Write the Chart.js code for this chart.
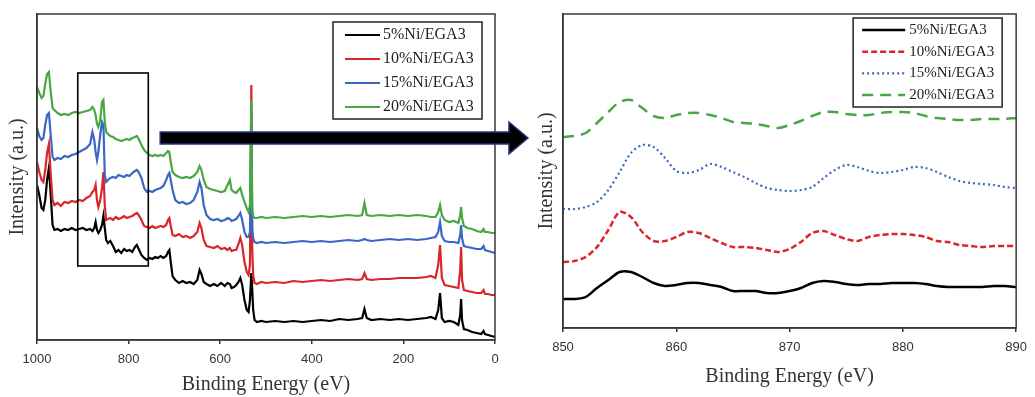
<!DOCTYPE html>
<html>
<head>
<meta charset="utf-8">
<script src="https://cdn.jsdelivr.net/npm/chart.js@4.4.0/dist/chart.umd.min.js"></script>
<style>
  body { margin: 0; background: #fff; }
  #wrap { position: relative; width: 1035px; height: 397px; }
  #survey { position: absolute; left: 0; top: 0; }
  #zoom { position: absolute; left: 530px; top: 0; }
</style>
</head>
<body>
<div id="wrap">
  <canvas id="survey" width="530" height="397"></canvas>
  <canvas id="zoom" width="505" height="397"></canvas>
</div>
<script>
// Series names
const seriesLabels = ['5%Ni/EGA3', '10%Ni/EGA3', '15%Ni/EGA3', '20%Ni/EGA3'];

// Survey spectrum (left), binding energy in eV
const surveyEnergy = [
  1000, 995, 990, 986, 982, 978, 974, 970, 966, 962,
  955, 948, 940, 932, 924, 916, 908, 900, 892, 884,
  879, 875, 872, 869, 866, 862, 858, 855, 852, 849,
  845, 840, 834, 828, 822, 816, 810, 804, 798, 792,
  786, 782, 778, 772, 766, 760, 754, 748, 742, 736,
  730, 724, 718, 714, 711, 708, 704, 698, 690, 682,
  674, 666, 658, 650, 645, 641, 636, 630, 622, 614,
  606, 598, 590, 584, 579, 575, 570, 565, 560, 556,
  552, 547, 542, 538, 535, 532, 530, 528, 525, 520,
  510, 500, 480, 460, 440, 420, 400, 380, 360, 340,
  320, 300, 290, 285, 280, 270, 250, 230, 210, 190,
  170, 150, 140, 130, 124, 120, 116, 110, 100, 90,
  80, 76, 74, 72, 68, 60, 50, 40, 30, 25,
  22, 15, 8, 0
];
const survey5 = [
  155, 145, 132, 130, 140, 160, 172, 145, 115, 110,
  111, 109, 111, 110, 112, 110, 111, 112, 110, 111,
  109, 112, 118, 110, 107, 110, 115, 124, 112, 100,
  97, 99, 94, 88, 90, 87, 91, 89, 90, 88,
  93, 95, 91, 85, 82, 80, 82, 81, 83, 82,
  84, 82, 84, 88, 90, 78, 64, 60, 57, 59,
  57, 58, 56, 60, 70, 66, 58, 56, 54, 56,
  54, 57, 54, 57, 56, 52, 53, 55, 58, 62,
  55, 40, 30, 28, 40, 67, 50, 30, 20, 18,
  19, 18, 19, 18, 19, 18, 19, 20, 19, 21,
  20, 21, 22, 31, 22, 20, 21, 20, 21, 20,
  21, 22, 23, 21, 30, 47, 22, 18, 19, 18,
  15, 25, 41, 20, 11, 10, 8, 7, 6, 9,
  6, 5, 4, 3
];
const survey10 = [
  178, 168, 160, 158, 170, 187, 196, 165, 140, 135,
  137, 134, 138, 137, 139, 138, 140, 139, 142, 144,
  148, 150, 155, 140, 133, 140, 152, 168, 135, 120,
  121, 122, 120, 123, 121, 122, 124, 122, 123, 124,
  126, 127, 125, 120, 114, 113, 112, 114, 112, 113,
  114, 113, 115, 120, 122, 114, 105, 104, 106, 103,
  104, 102, 104, 108, 117, 112, 100, 94, 93, 92,
  94, 91, 92, 90, 92, 89, 90, 90, 96, 102,
  95, 78, 68, 65, 75, 255, 90, 65, 57, 56,
  58, 57, 58, 57, 59, 58, 59, 60, 59, 60,
  61, 60, 61, 67, 61, 60, 61, 61, 62, 62,
  62, 63, 64, 62, 75, 95, 62, 55, 54, 53,
  52, 70, 93, 60, 50, 49, 48, 47, 47, 50,
  46, 46, 45, 45
];
const survey15 = [
  212, 204, 200, 202, 215, 225, 227, 205, 183, 180,
  182, 181, 184, 183, 185, 186, 188, 190, 192, 196,
  208, 200, 188, 180, 188, 205, 218, 215, 165, 158,
  160, 162, 163, 162, 165, 164, 163, 165, 164, 167,
  169, 170, 168, 162, 152, 148, 149, 148, 150, 151,
  152, 154, 160, 165, 167, 160, 150, 140, 137, 138,
  136, 137, 140, 148, 158, 152, 135, 125, 121, 120,
  121, 119, 120, 122, 121, 119, 120, 121, 124, 127,
  120, 108, 103, 103, 108, 230, 110, 102, 98, 97,
  98, 97, 98, 97, 98, 99, 98, 99, 98, 99,
  100, 99, 100, 101, 100, 99, 100, 101, 100, 101,
  100, 101, 102, 103, 108, 118, 104, 99, 98, 98,
  97, 105, 115, 102, 94, 93, 92, 91, 91, 94,
  90, 89, 88, 87
];
const survey20 = [
  253, 247, 242, 244, 256, 266, 268, 248, 232, 230,
  227, 225, 226, 225, 227, 228, 227, 228, 229, 230,
  233, 230, 225, 216, 213, 220, 238, 240, 218, 208,
  206, 204, 203, 201, 200, 199, 200, 201, 200, 202,
  203, 204, 201, 195, 190, 187, 185, 184, 185, 184,
  185, 184, 187, 189, 188, 178, 168, 165, 163, 162,
  163, 162, 164, 168, 174, 170, 160, 153, 151, 150,
  149, 148, 149, 155, 160, 150, 148, 147, 150, 152,
  145, 138, 132, 128, 135, 240, 130, 124, 122, 122,
  123, 122, 123, 122, 123, 124, 123, 124, 123, 124,
  125, 124, 125, 137, 125, 124, 125, 124, 125, 124,
  125, 124, 123, 123, 128, 135, 125, 120, 118, 119,
  117, 125, 133, 122, 114, 112, 111, 109, 108, 111,
  108, 108, 107, 107
];

// Ni 2p region (right), binding energy in eV
const zoomEnergy = [
  850, 851, 852, 853, 854, 855, 856, 857, 858, 859,
  860, 861, 862, 863, 864, 865, 866, 867, 868, 869,
  870, 871, 872, 873, 874, 875, 876, 877, 878, 879,
  880, 881, 882, 883, 884, 885, 886, 887, 888, 889,
  890
];
const ni5 = [
  29, 29, 31, 40, 48, 56, 56, 51, 45, 42,
  43, 45, 45, 43, 41, 37, 37, 37, 35, 35,
  37, 40, 45, 47, 46, 44, 43, 44, 44, 45,
  45, 45, 44, 42, 41, 41, 41, 41, 42, 42,
  41
];
const ni10 = [
  66, 67, 71, 81, 98, 116, 111, 96, 87, 87,
  91, 96, 95, 90, 85, 81, 81, 80, 78, 76,
  79, 86, 95, 97, 93, 89, 87, 91, 93, 94,
  94, 93, 91, 87, 86, 83, 82, 81, 82, 82,
  82
];
const ni15 = [
  119, 119, 121, 126, 138, 156, 175, 183, 181, 170,
  157, 155, 158, 164, 161, 156, 151, 145, 140, 138,
  137, 138, 141, 150, 158, 163, 161, 157, 155, 156,
  158, 161, 160, 156, 151, 147, 145, 144, 143, 141,
  140
];
const ni20 = [
  191, 192, 195, 205, 216, 226, 228, 220, 212, 210,
  213, 215, 215, 213, 210, 206, 205, 204, 202, 200,
  203, 207, 212, 216, 216, 214, 213, 213, 215, 216,
  216, 215, 212, 210, 209, 208, 208, 209, 209, 209,
  210
];

// Tick settings
const surveyTicks = { min: 0, max: 1000, step: 200 };
const zoomTicks = { min: 850, max: 890, step: 10 };

// Annotations of the survey plot (data units)
const boxEnergy = [911, 757];
const boxLevel = [267, 74];
const arrowEnergy = [731, -72];
const arrowLevel = 202;

const colors = ['#000000', '#d9262b', '#3b66c5', '#48a743'];
const serif = "'Liberation Serif', 'Times New Roman', serif";
const sans = "'Liberation Sans', Arial, sans-serif";

const frame = {
    id: 'frame',
    afterDraw(chart) {
        const { ctx, chartArea: a } = chart;
        ctx.save();
        ctx.strokeStyle = '#3a3a3a';
        ctx.lineWidth = 1.5;
        ctx.strokeRect(a.left, a.top, a.right - a.left, a.bottom - a.top);
        ctx.restore();
    }
};

const boxLegend = {
    id: 'boxLegend',
    afterDraw(chart, args, o) {
        const { ctx, chartArea: a } = chart;
        const x0 = a.right - o.right - o.width;
        const y0 = a.top + o.top;
        ctx.save();
        ctx.fillStyle = '#fff';
        ctx.fillRect(x0, y0, o.width, o.height);
        ctx.strokeStyle = '#222';
        ctx.lineWidth = 1.5;
        ctx.strokeRect(x0, y0, o.width, o.height);
        ctx.font = o.font;
        ctx.textBaseline = 'middle';
        chart.data.datasets.forEach((ds, i) => {
            const y = y0 + o.first + i * o.step;
            ctx.strokeStyle = ds.borderColor;
            ctx.lineWidth = o.lineWidth || ds.borderWidth;
            ctx.setLineDash(ds.borderDash || []);
            ctx.beginPath();
            ctx.moveTo(x0 + o.lineStart, y);
            ctx.lineTo(x0 + o.lineEnd, y);
            ctx.stroke();
            ctx.setLineDash([]);
            ctx.fillStyle = '#222';
            ctx.fillText(ds.label, x0 + o.textStart, y);
        });
        ctx.restore();
    }
};

// Rectangle around the Ni 2p region and the arrow to the zoomed plot
const marks = {
    id: 'marks',
    afterDraw(chart) {
        const { ctx, scales: { x, y } } = chart;
        ctx.save();
        const l = x.getPixelForValue(boxEnergy[0]);
        const r = x.getPixelForValue(boxEnergy[1]);
        const t = y.getPixelForValue(boxLevel[0]);
        const b = y.getPixelForValue(boxLevel[1]);
        ctx.strokeStyle = '#000';
        ctx.lineWidth = 1.6;
        ctx.strokeRect(l, t, r - l, b - t);

        const xs = x.getPixelForValue(arrowEnergy[0]);
        const xe = x.getPixelForValue(arrowEnergy[1]);
        const yc = y.getPixelForValue(arrowLevel);
        ctx.beginPath();
        ctx.moveTo(xs, yc - 6);
        ctx.lineTo(xe - 19, yc - 6);
        ctx.lineTo(xe - 19, yc - 16);
        ctx.lineTo(xe, yc);
        ctx.lineTo(xe - 19, yc + 16);
        ctx.lineTo(xe - 19, yc + 6);
        ctx.lineTo(xs, yc + 6);
        ctx.closePath();
        ctx.fillStyle = '#000';
        ctx.fill();
        ctx.strokeStyle = '#24357e';
        ctx.lineWidth = 1.5;
        ctx.stroke();
        ctx.restore();
    }
};

function xAxis(t, height, titlePad) {
    return {
        type: 'linear',
        min: t.min,
        max: t.max,
        afterFit: s => { s.height = height; },
        ticks: {
            stepSize: t.step,
            padding: 8,
            color: '#333',
            font: { family: sans, size: 13 },
            callback: v => String(v)
        },
        grid: { display: true, drawOnChartArea: false, drawTicks: true, tickLength: 4, tickColor: '#333', lineWidth: 1.5 },
        border: { display: true, color: '#333', width: 1.5 },
        title: {
            display: true,
            text: 'Binding Energy (eV)',
            color: '#333',
            font: { family: serif, size: 20 },
            padding: { top: 0, bottom: titlePad }
        }
    };
}

function yAxis(max, width, titlePad) {
    return {
        min: 0,
        max: max,
        afterFit: s => { s.width = width; },
        ticks: { display: false },
        grid: { display: false },
        border: { display: true, color: '#333', width: 1.5 },
        title: {
            display: true,
            text: 'Intensity (a.u.)',
            color: '#333',
            font: { family: serif, size: 20 },
            padding: { top: titlePad, bottom: 0 }
        }
    };
}

function pairs(xs, ys) {
    return xs.map((x, i) => ({ x: x, y: ys[i] }));
}

// Left: survey spectra
const surveySets = [survey5, survey10, survey15, survey20];
new Chart(document.getElementById('survey'), {
    type: 'line',
    data: {
        datasets: surveySets.map((s, i) => ({
            label: seriesLabels[i],
            data: pairs(surveyEnergy, s),
            borderColor: colors[i],
            borderWidth: 2.2,
            pointRadius: 0,
            tension: 0,
            order: 3 - i
        }))
    },
    options: {
        responsive: false,
        animation: false,
        layout: { padding: { left: 0, right: 35, top: 14, bottom: 0 } },
        scales: {
            x: Object.assign(xAxis(surveyTicks, 57, 0), { reverse: true }),
            y: yAxis(326, 37, 6)
        },
        plugins: {
            legend: { display: false },
            tooltip: { enabled: false },
            boxLegend: {
                right: 13, top: 8, width: 149, height: 97,
                first: 13, step: 24,
                lineStart: 12, lineEnd: 47, textStart: 50,
                lineWidth: 2.2,
                font: '16px ' + serif
            }
        }
    },
    plugins: [frame, boxLegend, marks]
});

// Right: Ni 2p region
const zoomSets = [ni5, ni10, ni15, ni20];
const dashes = [[], [6, 3], [2, 3], [11, 7]];
const widths = [2.5, 2.5, 2.2, 2.5];
new Chart(document.getElementById('zoom'), {
    type: 'line',
    data: {
        datasets: zoomSets.map((s, i) => ({
            label: seriesLabels[i],
            data: pairs(zoomEnergy, s),
            borderColor: colors[i],
            borderWidth: widths[i],
            borderDash: dashes[i],
            borderCapStyle: 'butt',
            pointRadius: 0,
            tension: 0.3
        }))
    },
    options: {
        responsive: false,
        animation: false,
        layout: { padding: { left: 0, right: 14, top: 14, bottom: 0 } },
        scales: {
            x: xAxis(zoomTicks, 69, 8),
            y: yAxis(314, 33, 5)
        },
        plugins: {
            legend: { display: false },
            tooltip: { enabled: false },
            boxLegend: {
                right: 14, top: 4, width: 149, height: 89,
                first: 12, step: 21.7,
                lineStart: 9, lineEnd: 52, textStart: 56,
                font: '15px ' + serif
            }
        }
    },
    plugins: [frame, boxLegend]
});
</script>
</body>
</html>
